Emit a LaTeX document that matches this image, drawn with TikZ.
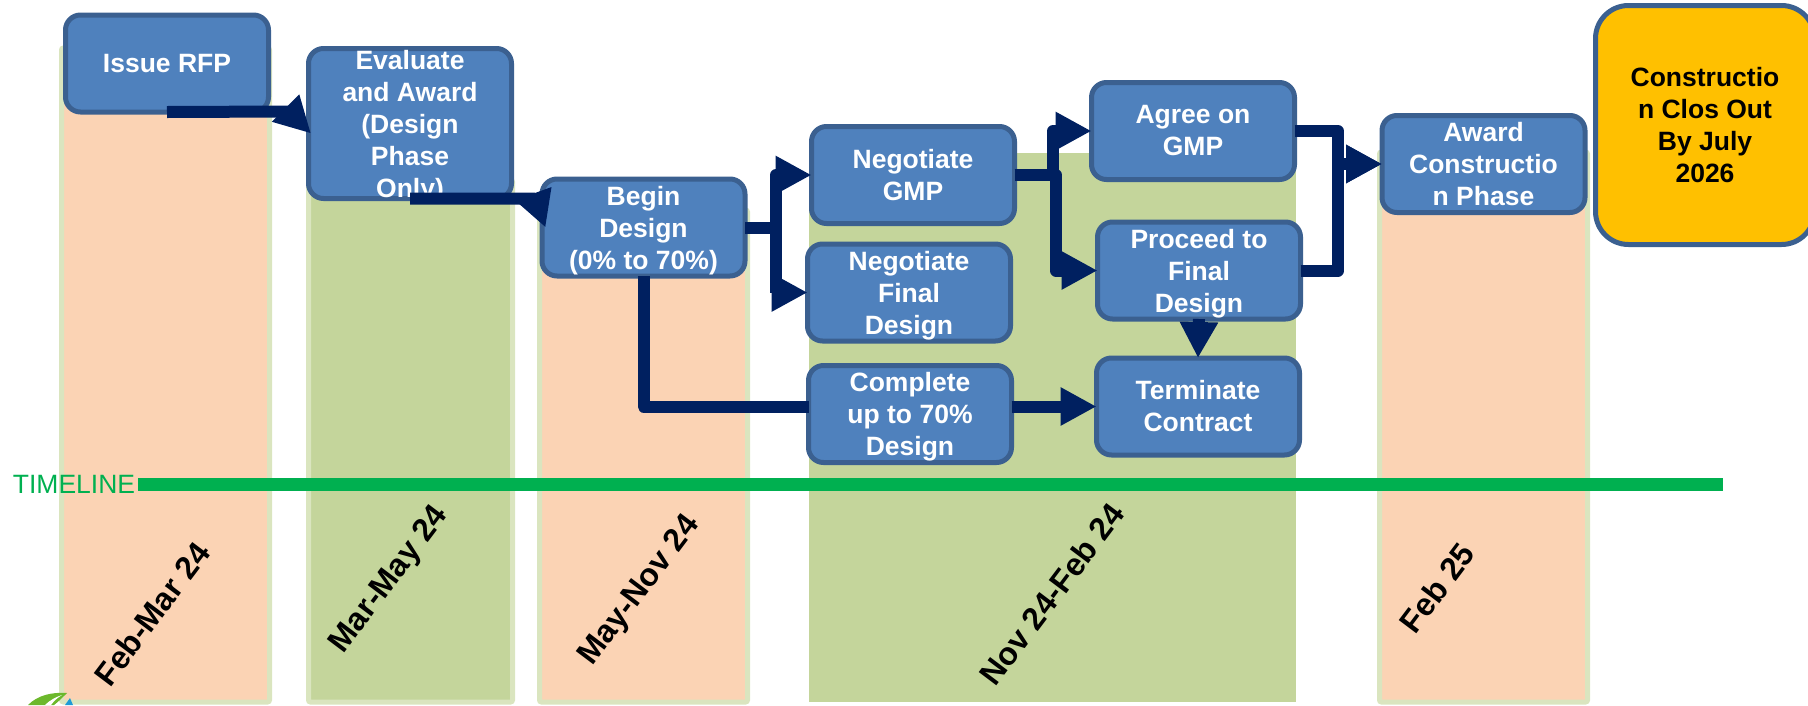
\documentclass[tikz,border=0pt]{standalone}
\usepackage{fontspec}
\setmainfont{Liberation Sans}
\usetikzlibrary{arrows.meta}
\definecolor{taskfill}{HTML}{4F81BD}
\definecolor{taskline}{HTML}{3B6090}
\definecolor{flowcol}{HTML}{002060}
\definecolor{peach}{HTML}{FBD3B4}
\definecolor{sage}{HTML}{C4D59B}
\definecolor{sageline}{HTML}{DAE5BF}
\definecolor{linecol}{HTML}{00B050}
\definecolor{closefill}{HTML}{FFC000}
\definecolor{leaf}{HTML}{6CB82C}
\definecolor{drop}{HTML}{1E9BD7}
\newcommand{\lift}{\rule{0pt}{25pt}}
\tikzstyle{task}=[rectangle,rounded corners=15pt,line width=5pt,draw=taskline,fill=taskfill,
text=white,font=\bfseries\fontsize{26.5}{32}\selectfont,align=center,inner sep=0pt,outer sep=0pt,
minimum width=203pt,minimum height=97pt]
\tikzstyle{closebox}=[task,rounded corners=33pt,fill=closefill,text=black,minimum width=219pt,minimum height=239pt]
\tikzstyle{flow}=[line width=12pt,draw=flowcol,line join=round,-{Triangle[length=36pt,width=36pt]}]
\tikzstyle{plain}=[line width=12pt,draw=flowcol,line join=round]
\tikzstyle{peachbar}=[draw=sageline,fill=peach,line width=5pt,rounded corners=2pt]
\tikzstyle{sagebar}=[draw=sageline,fill=sage,line width=5pt,rounded corners=2pt]
\tikzstyle{period}=[font=\bfseries\fontsize{32}{38}\selectfont,rotate=53,inner sep=0pt]

\begin{document}
\begin{tikzpicture}[x=1pt,y=-1pt]
	\clip (0,0) rectangle (1808,705);

	% period bars
	\draw[peachbar] (61.5,48) rectangle (269.5,702);
	\draw[sagebar] (308.5,180) rectangle (512.5,702);
	\draw[peachbar] (539.5,210) rectangle (747.5,702);
	\fill[sage] (809,153) rectangle (1296,702);
	\draw[peachbar] (1379.5,152) rectangle (1587.5,702);

	% timeline
	\coordinate (l0) at (138,484.5);
	\coordinate (l1) at (1723,484.5);
	\draw[linecol,line width=13pt] (l0) -- (l1);
	\node[text=linecol,font=\fontsize{26.5}{32}\selectfont,inner sep=0pt] (tl) at (74,484) {TIMELINE};

	% logo corner
	\fill[leaf] (28,705) .. controls (38,695) and (52,692) .. (67,693) .. controls (62,698) and (58,702) .. (54,705) -- cycle;
	\fill[white] (45,705) .. controls (50,700) and (56,697) .. (62,695) .. controls (57,698) and (54,701) .. (51,705) -- cycle;
	\fill[drop] (65,705) -- (70,698) -- (73,705) -- cycle;

	% tasks
	\node[task] (rfp) at (167,63.5) {Issue RFP};
	\node[task,minimum height=150pt] (eval) at (410,123.5) {Evaluate\\and Award\\(Design\\Phase\\\raisebox{0pt}[\height][0pt]{Only)}};
	\node[task] (begin) at (643.5,227.5) {\lift Begin\\Design\\(0\% to 70\%)};
	\node[task] (ngmp) at (913,175) {Negotiate\\GMP};
	\node[task] (nfin) at (909,292.5) {\lift Negotiate\\Final\\Design};
	\node[task] (comp) at (910,414) {\lift Complete\\up to 70\%\\Design};
	\node[task] (agree) at (1193,131) {Agree on\\GMP};
	\node[task] (proc) at (1199,270.5) {\lift Proceed to\\Final\\Design};
	\node[task] (term) at (1198,406.5) {Terminate\\Contract};
	\node[task] (award) at (1483.5,164) {Award\\Constructio\\n Phase};
	\node[closebox] (close) at (1705,125) {Constructio\\n Clos Out\\By July\\2026};

	% connectors
	\draw[flow] (rfp.south) -- (289,111.5) -- ([yshift=-10pt,xshift=2.5pt]eval.west);
	\draw[flow] (eval.south) -- (535,198.5) -- ([xshift=3.5pt]begin.west);
	\draw[flow] (begin.east) -- (776,227.5) |- (ngmp.west);
	\draw[flow] (begin.east) -- (776,227.5) |- (nfin.west);
	\draw[plain] (begin.south) |- ([yshift=7.5pt]comp.west);
	\draw[flow] ([yshift=7.5pt]comp.east) -- (term.west);
	\draw[flow] (ngmp.east) -- (1053,175) |- (agree.west);
	\draw[flow] (ngmp.east) -- (1056,175) |- (proc.west);
	\draw[flow] (agree.east) -- (1338,131) |- (award.west);
	\draw[flow] (proc.east) -- (1338,270.5) |- (award.west);
	\draw[flow] (proc.south) -- (term.north);

	% periods
	\node[period] (d1) at (152,614) {Feb-Mar 24};
	\node[period] (d2) at (390,580) {Mar-May 24};
	\node[period] (d3) at (640,591) {May-Nov 24};
	\node[period] (d4) at (1052,594) {Nov 24-Feb 24};
	\node[period] (d5) at (1437,588) {Feb 25};
\end{tikzpicture}
\end{document}
